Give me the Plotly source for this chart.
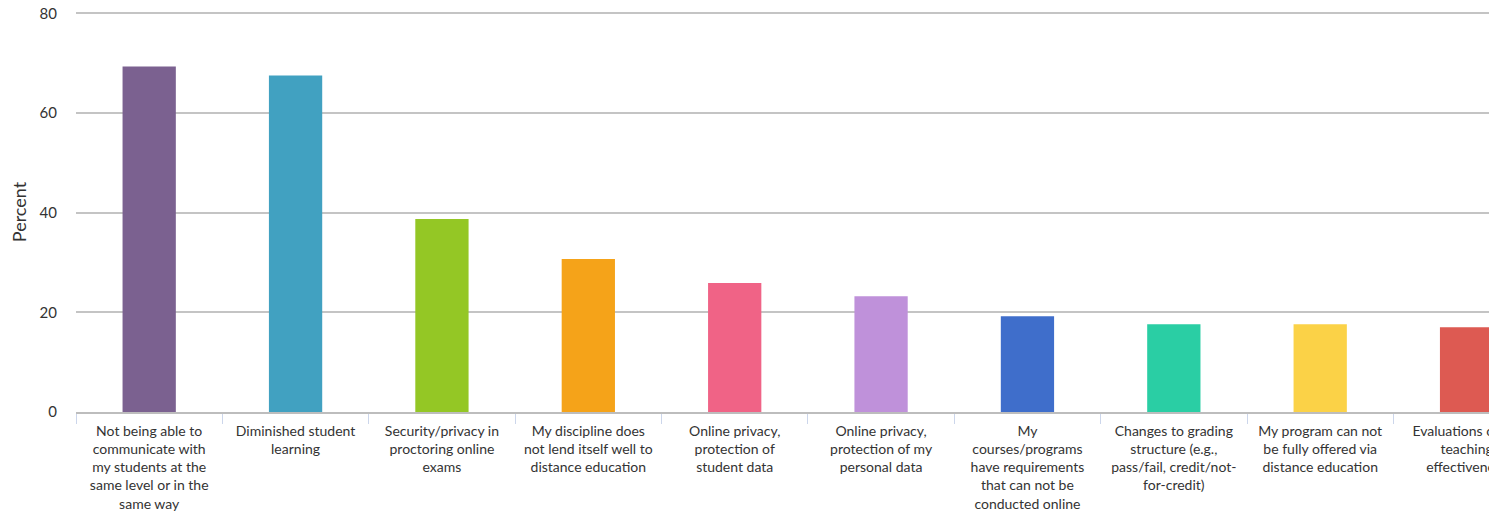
import plotly.graph_objects as go

categories = [
    "Not being able to<br>communicate with<br>my students at the<br>same level or in the<br>same way",
    "Diminished student<br>learning",
    "Security/privacy in<br>proctoring online<br>exams",
    "My discipline does<br>not lend itself well to<br>distance education",
    "Online privacy,<br>protection of<br>student data",
    "Online privacy,<br>protection of my<br>personal data",
    "My<br>courses/programs<br>have requirements<br>that can not be<br>conducted online",
    "Changes to grading<br>structure (e.g.,<br>pass/fail, credit/not-<br>for-credit)",
    "My program can not<br>be fully offered via<br>distance education",
    "Evaluations of my<br>teaching<br>effectiveness",
]
values = [69.3, 67.5, 38.7, 30.7, 25.9, 23.2, 19.2, 17.6, 17.6, 17.0]
colors = ["#7B6190", "#41A1C1", "#94C725", "#F5A319", "#F06386",
          "#BF91DA", "#3F6ECB", "#2ACEA4", "#FBD247", "#DD5A52"]
y_ticks = [0, 20, 40, 60, 80]

fig = go.Figure(go.Bar(x=categories, y=values, marker=dict(color=colors, line=dict(width=0)),
                       hoverinfo="y"))

fig.update_layout(
    width=1489, height=509,
    margin=dict(l=68, r=7, t=4, b=105),
    paper_bgcolor="white", plot_bgcolor="white",
    bargap=0.636,
    showlegend=False,
    font=dict(family="Lato, sans-serif", color="#333333", size=14),
)
fig.update_xaxes(
    type="category",
    range=[-0.5, 9.16],
    tickson="boundaries",
    ticks="outside", ticklen=10, tickcolor="#ccd6eb", tickwidth=1,
    ticklabelstandoff=5,
    ticklabeloverflow="allow",
    showgrid=False,
    showline=True, linecolor="#bdbdbd", linewidth=2,
    tickfont=dict(size=14, color="#333333"),
    tickangle=0,
    automargin=False,
)
fig.update_yaxes(
    range=[0, 80.25],
    tickvals=y_ticks,
    showgrid=True, gridcolor="#c4c4c4", gridwidth=1.5,
    zeroline=False,
    showline=False,
    ticks="", ticklabelstandoff=18,
    ticklabeloverflow="allow",
    tickfont=dict(size=15, color="#333333"),
    title=dict(text="Percent", font=dict(size=18, color="#333333"), standoff=12),
    automargin=False,
)

fig.write_html("out.html")
